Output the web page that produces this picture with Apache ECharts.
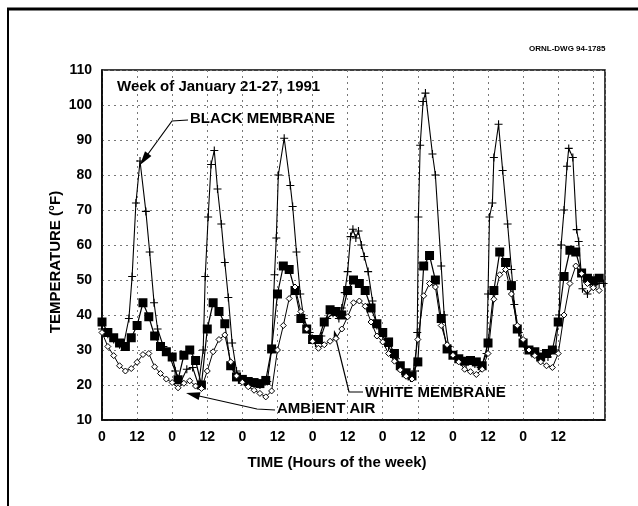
<!DOCTYPE html>
<html>
<head>
<meta charset="utf-8">
<script src="https://cdn.jsdelivr.net/npm/echarts@6/dist/echarts.min.js"></script>
<style>
  html, body { margin: 0; padding: 0; background: #fff; }
  #chart { width: 638px; height: 506px; }
</style>
</head>
<body>
<div id="chart"></div>
<script>
// black membrane (+ markers) at irregular hours
var blackHours = [0, 2, 4, 6, 7.5, 9.2, 10.3, 11.6, 13, 15, 16.3, 17.8, 19, 21, 23, 25, 27, 29, 31, 33,
  34.6, 35.3, 36.3, 37.3, 38.4, 39.5, 40.8, 42, 43.2, 44.5, 46, 48, 51, 54, 56.5,
  58, 59, 59.6, 60.3, 62.3, 64.4, 65.2, 66.5, 67.8, 69, 71, 73, 75, 77, 79, 81,
  82, 83, 84, 85, 85.8, 86.8, 87.7, 88.7, 89.7, 91, 92.5, 94, 96, 98, 100.5, 102.5, 105.5, 107,
  107.8, 108.2, 108.8, 109.8, 110.6, 113, 114, 116, 117, 118.5, 121, 124.5, 127.5, 129.5, 131.5,
  132, 132.5, 133.5, 134, 135.6, 137, 138.7, 140, 141, 142.5, 144.5, 147, 150, 152.5, 155, 156.3,
  157, 158, 159, 159.6, 161, 162.3, 163, 164.3, 166, 168, 170, 171.5]
var blackTemps = [36, 34.5, 33, 31.5, 32, 39, 51, 72, 84, 69.6, 58, 43.5, 36, 31, 28.5, 24, 21, 24.5, 25, 20,
  30, 51, 68, 83, 87, 76, 66, 55, 45, 32, 24, 21.5, 20.5, 20, 21,
  30, 51.5, 62, 80, 90.5, 77, 71, 58, 46, 39, 35, 32, 34, 39, 40.5, 39,
  42, 46.4, 52.4, 62.4, 64.5, 62, 64, 60, 56.7, 52.4, 44, 37, 34, 31, 27.5, 24, 22, 24,
  35, 68, 88.5, 101, 103.4, 86, 80, 54, 40, 31, 28, 26, 26, 25, 29,
  46, 68, 72, 85, 94.5, 81.3, 66, 53, 43, 35, 31, 29, 27.5, 28, 30, 40,
  60, 70, 82.5, 87.6, 85, 64.4, 61, 47.5, 46, 48, 49, 49]

// white membrane (filled squares) and ambient air (open diamonds), every 2 hours
var hours = [0, 2, 4, 6, 8, 10, 12, 14, 16, 18, 20, 22, 24, 26, 28, 30, 32, 34, 36, 38, 40, 42,
  44, 46, 48, 50, 52, 54, 56, 58, 60, 62, 64, 66, 68, 70, 72, 74, 76, 78, 80, 82, 84,
  86, 88, 90, 92, 94, 96, 98, 100, 102, 104, 106, 108, 110, 112, 114, 116, 118, 120, 122, 124, 126,
  128, 130, 132, 134, 136, 138, 140, 142, 144, 146, 148, 150, 152, 154, 156, 158, 160, 162, 164, 166, 168, 170]
var whiteTemps = [38, 35, 33.5, 32, 31, 33.5, 37, 43.5, 39.5, 34, 31, 29.5, 28, 21.5, 28.5, 30, 27, 20, 36, 43.5, 41, 37.5,
  25.5, 22.3, 21.6, 21, 20.7, 20.4, 21.3, 30.3, 46, 54, 53, 47, 39, 36, 33, 33, 38, 41.5, 41, 40, 47,
  50, 49, 47, 42, 37.5, 35, 32.3, 29, 25.5, 23.5, 22.6, 26.6, 54, 57, 50, 39, 30.3, 28.5, 27.5, 26.8, 27,
  26.6, 25.5, 32, 47, 58, 55, 48.4, 36, 32, 30, 29.5, 28, 29, 30, 38, 51, 58.5, 58, 52, 50.5, 49.8, 50.5]
var ambientTemps = [35, 31, 28.4, 25.5, 24, 24.7, 26.5, 28.7, 29, 25.2, 23.3, 21.7, 20.7, 19.2, 20.5, 21.2, 19.7, 19, 24, 29.5, 33, 34.3,
  26.6, 22.6, 20.8, 19.5, 18.5, 17.6, 16.6, 18.3, 30, 37, 44.7, 48, 41, 36, 32.5, 30.5, 31.5, 32.5, 33.3, 36, 39.5,
  43.5, 44, 42.5, 38, 34, 32.3, 29, 26.8, 24.3, 22.5, 21.7, 33, 45.5, 49, 48, 37, 31.5, 28.5, 26.6, 24.5, 23.8,
  23, 24.5, 29, 44.5, 51.5, 53, 46, 37, 33, 30, 28.4, 26.6, 25.5, 25, 29, 40, 49, 54, 51.8, 49, 47.8, 47]

var yTicks = [10, 20, 30, 40, 50, 60, 70, 80, 90, 100, 110]

function zip(xs, ys) {
  return xs.map(function (x, i) { return [x, ys[i]] })
}

var font = '"Liberation Sans", Arial, sans-serif'
var labelFont = 'bold 15px ' + font
var crossPath = 'path://M4.3,0h1.4v10h-1.4z M0,4.3h10v1.4h-10z'
var gridLine = { show: true, lineStyle: { color: '#777', type: [2, 4], width: 1 } }

var options = {
  backgroundColor: '#fff',
  animation: false,
  grid: { left: 102, right: 33, top: 70, bottom: 86, show: true, borderColor: '#000', borderWidth: 1.5 },
  xAxis: {
    type: 'value',
    min: 0,
    max: 172,
    interval: 12,
    axisLine: { show: true, lineStyle: { color: '#000', width: 1.5 } },
    axisTick: { show: false },
    splitLine: gridLine,
    axisLabel: {
      margin: 10,
      color: '#000',
      fontFamily: font,
      fontSize: 14,
      fontWeight: 'bold',
      showMaxLabel: false,
      formatter: function (v) { return v >= 168 ? '' : String(v % 24) }
    }
  },
  yAxis: {
    type: 'value',
    min: yTicks[0],
    max: yTicks[yTicks.length - 1],
    interval: 10,
    axisLine: { show: true, lineStyle: { color: '#000', width: 1.5 } },
    axisTick: { show: false },
    splitLine: gridLine,
    axisLabel: { margin: 10, color: '#000', fontFamily: font, fontSize: 14, fontWeight: 'bold' }
  },
  series: [
    {
      name: 'BLACK MEMBRANE',
      type: 'line',
      data: zip(blackHours, blackTemps),
      symbol: crossPath,
      symbolSize: 8,
      showAllSymbol: true,
      lineStyle: { color: '#000', width: 1.1 },
      itemStyle: { color: '#000' },
      z: 3
    },
    {
      name: 'WHITE MEMBRANE',
      type: 'line',
      data: zip(hours, whiteTemps),
      symbol: 'rect',
      symbolSize: 9,
      showAllSymbol: true,
      lineStyle: { color: '#000', width: 1.2 },
      itemStyle: { color: '#000' },
      z: 4
    },
    {
      name: 'AMBIENT AIR',
      type: 'line',
      data: zip(hours, ambientTemps),
      symbol: 'diamond',
      symbolSize: 6,
      showAllSymbol: true,
      lineStyle: { color: '#000', width: 1 },
      itemStyle: { color: '#fff', borderColor: '#000', borderWidth: 1 },
      z: 5
    }
  ],
  graphic: [
    // page frame
    { type: 'line', shape: { x1: 7, y1: 9, x2: 638, y2: 9 }, style: { stroke: '#000', lineWidth: 3 } },
    { type: 'line', shape: { x1: 8, y1: 9, x2: 8, y2: 506 }, style: { stroke: '#000', lineWidth: 2 } },
    { type: 'text', left: 529, top: 45, style: { text: 'ORNL-DWG 94-1785', font: 'bold 8px ' + font, fill: '#000' } },
    // titles
    { type: 'text', left: 117, top: 79, style: { text: 'Week of January 21-27, 1991', font: labelFont, fill: '#000' } },
    {
      type: 'text', x: 56, y: 262, rotation: Math.PI / 2,
      style: { text: 'TEMPERATURE (°F)', font: labelFont, fill: '#000', align: 'center', verticalAlign: 'middle' }
    },
    {
      type: 'text', x: 337, y: 463,
      style: { text: 'TIME (Hours of the week)', font: labelFont, fill: '#000', align: 'center', verticalAlign: 'middle' }
    },
    // series call-outs
    { type: 'text', left: 190, top: 111, style: { text: 'BLACK MEMBRANE', font: labelFont, fill: '#000' } },
    { type: 'polyline', shape: { points: [[188, 120], [172, 121], [148, 154]] }, style: { stroke: '#000', lineWidth: 1.2, fill: null } },
    { type: 'polygon', shape: { points: [[140, 165], [151.4, 156.1], [145, 151.3]] }, style: { fill: '#000' } },
    { type: 'text', left: 365, top: 385, style: { text: 'WHITE MEMBRANE', font: labelFont, fill: '#000' } },
    { type: 'polyline', shape: { points: [[363, 392], [349, 392], [336, 339]] }, style: { stroke: '#000', lineWidth: 1.2, fill: null } },
    { type: 'polygon', shape: { points: [[334, 330], [339.3, 339], [333.5, 340.4]] }, style: { fill: '#000' } },
    { type: 'text', left: 277, top: 401, style: { text: 'AMBIENT AIR', font: labelFont, fill: '#000' } },
    { type: 'polyline', shape: { points: [[275, 410], [257, 409], [199, 396]] }, style: { stroke: '#000', lineWidth: 1.2, fill: null } },
    { type: 'polygon', shape: { points: [[186, 393], [200.5, 392.2], [198.7, 400]] }, style: { fill: '#000' } }
  ]
}

var myChart = echarts.init(document.getElementById('chart'))
myChart.setOption(options)
</script>
</body>
</html>
